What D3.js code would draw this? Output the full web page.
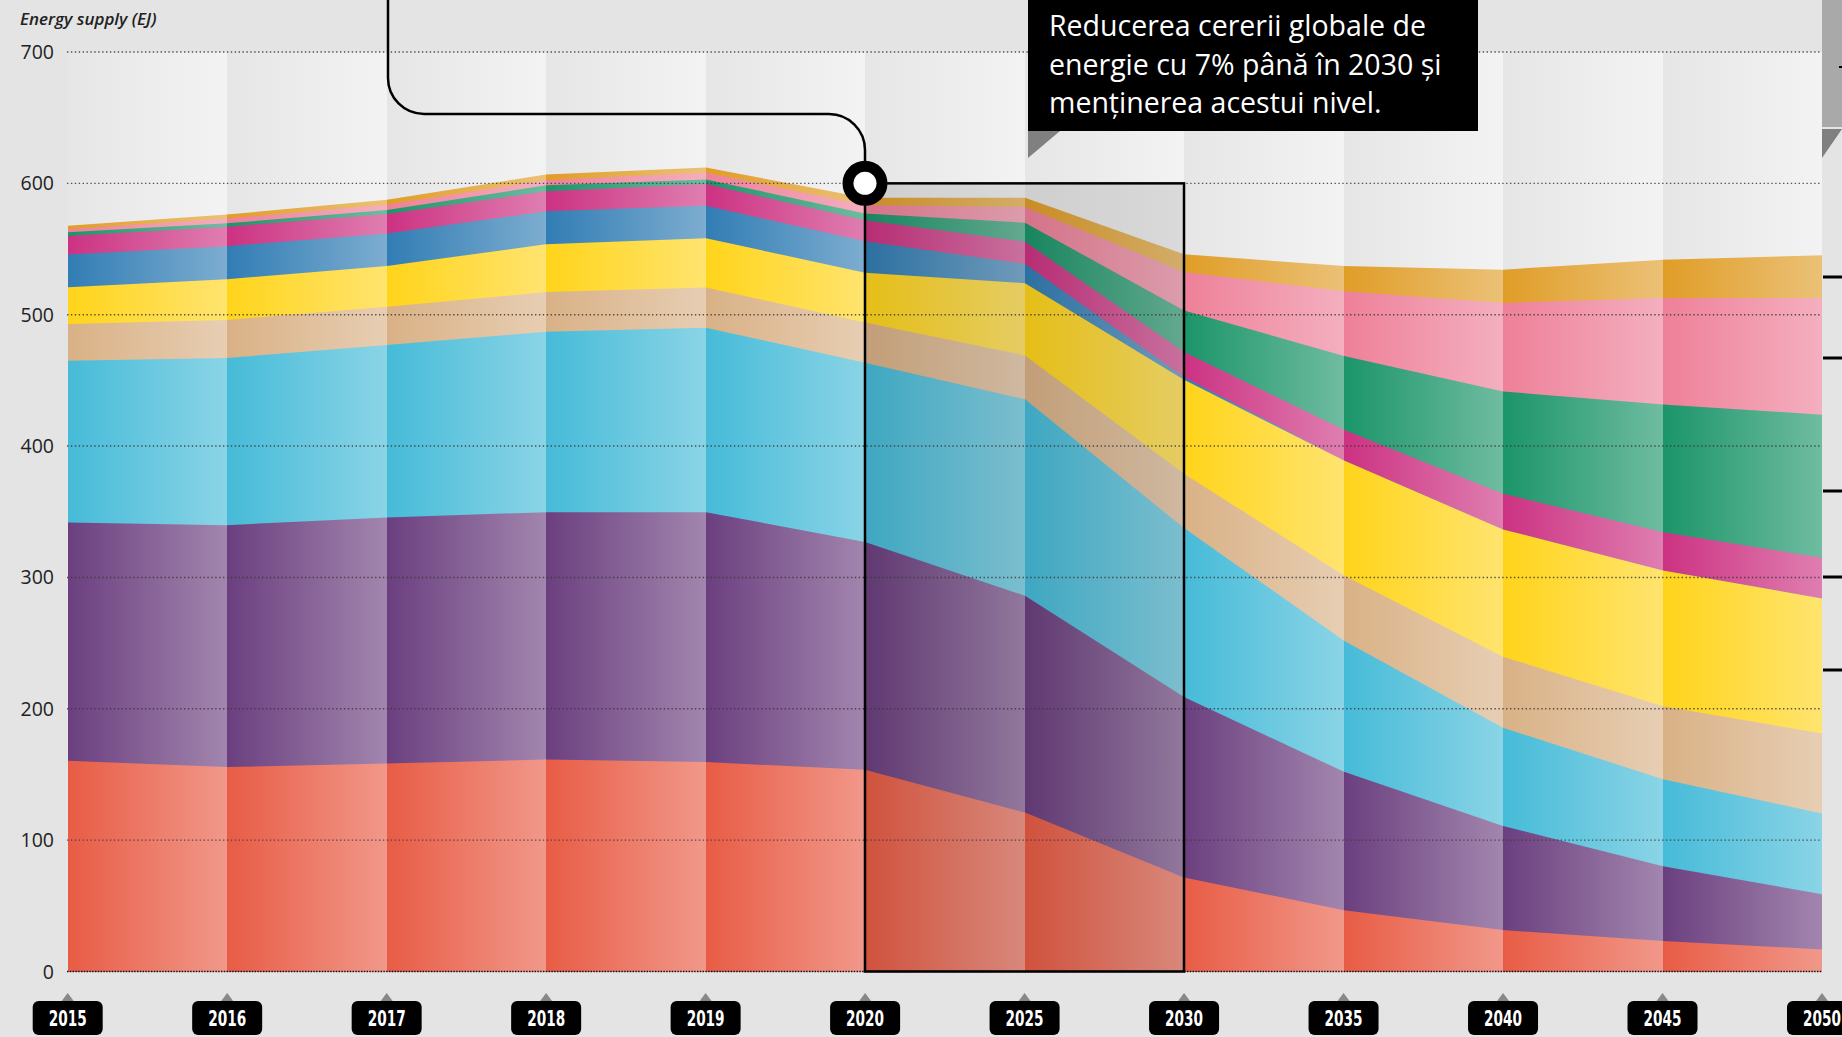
<!DOCTYPE html>
<html>
<head>
<meta charset="utf-8">
<script src="https://cdn.jsdelivr.net/npm/d3@7"></script>
<style>
  body { margin: 0; background: #e4e4e4; overflow: hidden; }
  svg { display: block; }
</style>
</head>
<body>
<script>
const width = 1842;
const height = 1037;

// date (EJ)
const years = ['2015', '2016', '2017', '2018', '2019', '2020', '2025', '2030', '2035', '2040', '2045', '2050'];
const red     = [160.4, 155.6, 158.4, 161.4, 159.4, 153.6, 121.0, 71.6, 46.7, 31.5, 23.3, 16.8];
const purple  = [181.5, 184.2, 187.3, 188.3, 190.3, 173.3, 165.0, 137.4, 105.3, 79.2, 56.9, 42.1];
const cyan    = [123.1, 127.2, 131.3, 137.3, 140.3, 136.6, 149.6, 128.6, 99.8, 74.8, 66.2, 61.4];
const tan     = [27.9, 29.0, 29.0, 30.2, 30.8, 30.5, 33.4, 41.3, 49.7, 54.1, 55.6, 60.9];
const yellow  = [28.1, 31.0, 31.0, 36.5, 37.4, 38.0, 55.0, 71.6, 87.5, 96.9, 103.3, 102.8];
const blue    = [24.8, 25.2, 24.8, 25.0, 24.8, 24.0, 14.6, 2.0, 0, 0, 0, 0];
const magenta = [14.2, 14.8, 14.9, 15.3, 16.5, 16.0, 17.0, 19.1, 23.4, 27.2, 29.0, 31.0];
const green   = [2.8, 2.6, 3.0, 4.5, 3.5, 5.0, 14.4, 31.7, 56.1, 77.9, 97.4, 108.9];
const pink    = [2.2, 3.6, 4.1, 3.8, 5.0, 6.5, 12.0, 29.2, 49.3, 67.3, 81.0, 88.8];
const orange  = [2.8, 3.0, 3.8, 4.5, 4.0, 5.5, 7.0, 13.5, 19.2, 25.4, 29.2, 32.5];

const yTicks = [0, 100, 200, 300, 400, 500, 600, 700];
const noteLines = ['Reducerea cererii globale de', 'energie cu 7% până în 2030 și', 'menținerea acestui nivel.'];

const keys = ['red', 'purple', 'cyan', 'tan', 'yellow', 'blue', 'magenta', 'green', 'pink', 'orange'];
const seriesData = { red, purple, cyan, tan, yellow, blue, magenta, green, pink, orange };
const colors = {
    red: '#e85c45', purple: '#6b3f7f', cyan: '#46bbd8', tan: '#d9b186', yellow: '#ffd41a',
    blue: '#317db4', magenta: '#cc3282', green: '#1b9569', pink: '#ee8099', orange: '#e09d27'
};

const table = years.map((y, i) => {
    const row = { year: y };
    keys.forEach(k => row[k] = seriesData[k][i]);
    return row;
});
const stacked = d3.stack().keys(keys)(table);

const svg = d3.select('body').append('svg').attr('width', width).attr('height', height);
const defs = svg.append('defs');

const x = d3.scalePoint().domain(years).range([67.7, 1822]);
const y = d3.scaleLinear().domain([0, 700]).range([971.5, 52]);
// pozitii pe pixel intreg, ca marginile coloanelor sa nu lase dungi
const xr = d => Math.round(x(d));

// gradienti: culoare plina la stanga, mai deschisa la dreapta
keys.forEach(k => {
    const g = defs.append('linearGradient').attr('id', 'g-' + k).attr('x1', 0).attr('x2', 1).attr('y1', 0).attr('y2', 0);
    g.append('stop').attr('offset', 0).attr('stop-color', colors[k]);
    g.append('stop').attr('offset', 1).attr('stop-color', d3.interpolateRgb(colors[k], '#fff')(0.37));
});
const bgGrad = defs.append('linearGradient').attr('id', 'g-bg').attr('x1', 0).attr('x2', 1).attr('y1', 0).attr('y2', 0);
bgGrad.append('stop').attr('offset', 0).attr('stop-color', '#e6e6e6');
bgGrad.append('stop').attr('offset', 1).attr('stop-color', '#f3f3f3');

// coloanele de fundal
const segs = d3.range(years.length - 1);
svg.append('g').selectAll('rect')
    .data(segs)
    .join('rect')
    .attr('x', i => xr(years[i]))
    .attr('width', i => xr(years[i + 1]) - xr(years[i]))
    .attr('y', y(700))
    .attr('height', y(0) - y(700))
    .attr('fill', 'url(#g-bg)');

// ariile, pe segmente, fiecare cu gradientul lui
const gAreas = svg.append('g');
segs.forEach(i => {
    const seg = gAreas.append('g');
    const area = d3.area()
        .x(d => xr(d.data.year))
        .y0(y(0))
        .y1(d => y(d[1]));
    // de sus in jos, ca sa nu ramana fante intre straturi
    stacked.slice().reverse().forEach(layer => {
        seg.append('path')
            .attr('d', area([layer[i], layer[i + 1]]))
            .attr('fill', 'url(#g-' + layer.key + ')');
    });
});

// zona 2020-2030 mai intunecata
const bx0 = xr('2020'), bx1 = xr('2030');
svg.append('rect')
    .attr('x', bx0).attr('y', y(600))
    .attr('width', bx1 - bx0).attr('height', y(0) - y(600))
    .attr('fill', '#000').attr('opacity', 0.1);

// gridlines
svg.append('g').selectAll('line')
    .data(yTicks.filter(d => d > 0))
    .join('line')
    .attr('x1', 67).attr('x2', 1822)
    .attr('y1', d => y(d)).attr('y2', d => y(d))
    .attr('stroke', '#3a3a3a').attr('stroke-width', 1.4)
    .attr('stroke-dasharray', '1.4 2.5').attr('opacity', 0.85);
svg.append('line')
    .attr('x1', 67).attr('x2', 1822).attr('y1', y(0)).attr('y2', y(0))
    .attr('stroke', '#111').attr('stroke-width', 1.6).attr('stroke-dasharray', '1.4 1.4');

// etichete axa y
svg.append('g').selectAll('text')
    .data(yTicks)
    .join('text')
    .attr('x', 54).attr('y', d => y(d))
    .attr('dy', '0.36em')
    .attr('text-anchor', 'end')
    .attr('font-family', 'Open Sans, sans-serif')
    .attr('font-size', 19.5)
    .attr('fill', '#222')
    .text(d => d);

svg.append('text')
    .attr('x', 20).attr('y', 25)
    .attr('font-family', 'Open Sans, sans-serif')
    .attr('font-style', 'italic').attr('font-weight', 600)
    .attr('font-size', 17).attr('fill', '#222')
    .text('Energy supply (EJ)');

// chenarul 2020-2030
svg.append('rect')
    .attr('x', bx0).attr('y', y(600))
    .attr('width', bx1 - bx0).attr('height', y(0) - y(600))
    .attr('fill', 'none').attr('stroke', '#000').attr('stroke-width', 2.5);

// linia de legatura catre nota
const r = 36, lx = 388, ly = 114, cx = xr('2020'), cy = y(600);
const p = d3.path();
p.moveTo(lx, 0);
p.lineTo(lx, ly - r);
p.arcTo(lx, ly, lx + r, ly, r);
p.lineTo(cx - r, ly);
p.arcTo(cx, ly, cx, ly + r, r);
p.lineTo(cx, cy);
svg.append('path').attr('d', p.toString()).attr('fill', 'none').attr('stroke', '#000').attr('stroke-width', 2.5);
svg.append('circle').attr('cx', cx).attr('cy', cy).attr('r', 22.5).attr('fill', '#000');
svg.append('circle').attr('cx', cx).attr('cy', cy).attr('r', 11.5).attr('fill', '#fff');

// nota
svg.append('rect').attr('x', 1028).attr('y', 0).attr('width', 450).attr('height', 131).attr('fill', '#000');
svg.append('path').attr('d', 'M1028,131L1060,131L1028,158Z').attr('fill', '#808080');
svg.append('g').selectAll('text')
    .data(noteLines)
    .join('text')
    .attr('x', 1049).attr('y', (d, i) => 36 + i * 38.5)
    .attr('font-family', 'Open Sans, sans-serif')
    .attr('font-size', 28.5).attr('fill', '#fff')
    .text(d => d);

// etichete ani
const badges = svg.append('g').selectAll('g')
    .data(years)
    .join('g')
    .attr('transform', d => `translate(${x(d)},0)`);
badges.append('path').attr('d', 'M-6,1001L0,993L6,1001Z').attr('fill', '#888');
badges.append('rect')
    .attr('x', -35).attr('y', 1001).attr('width', 70).attr('height', 34).attr('rx', 6)
    .attr('fill', '#000');
badges.append('text')
    .attr('y', 1018).attr('dy', '0.36em')
    .attr('text-anchor', 'middle')
    .attr('font-family', 'Liberation Sans Narrow, DejaVu Sans Condensed, sans-serif')
    .attr('font-weight', 700).attr('font-size', 22).attr('fill', '#fff')
    .attr('textLength', 38).attr('lengthAdjust', 'spacingAndGlyphs')
    .text(d => d);

// panoul din dreapta (taiat)
svg.append('rect').attr('x', 1822).attr('y', 0).attr('width', 20).attr('height', 127).attr('fill', '#a9a9a9');
svg.append('path').attr('d', 'M1822,129L1842,129L1822,158Z').attr('fill', '#808080');
svg.append('line').attr('x1', 1839).attr('x2', 1842).attr('y1', 67).attr('y2', 67).attr('stroke', '#000').attr('stroke-width', 2);
svg.append('g').selectAll('line')
    .data([277, 358, 491, 577, 670])
    .join('line')
    .attr('x1', 1823).attr('x2', 1842)
    .attr('y1', d => d).attr('y2', d => d)
    .attr('stroke', '#000').attr('stroke-width', 3);
</script>
</body>
</html>
